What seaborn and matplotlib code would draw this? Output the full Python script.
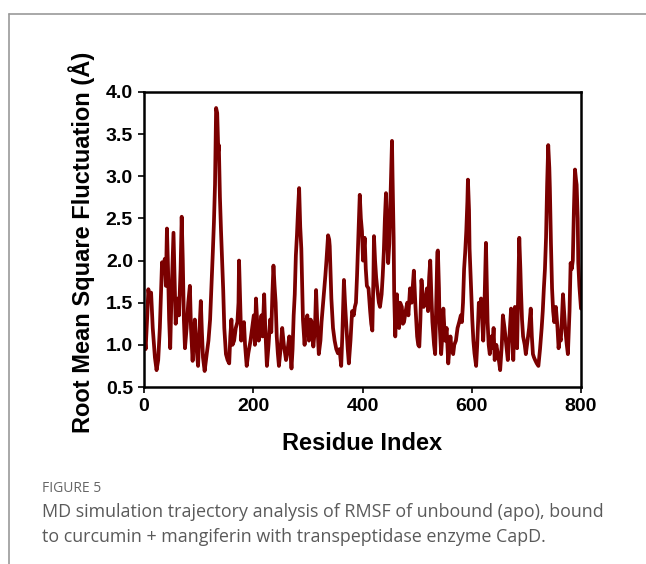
import matplotlib.pyplot as plt
import matplotlib.lines as mlines
import pandas as pd
import seaborn as sns

# RMSF per residue
residue = [
    0, 3, 6, 8, 10, 13, 16, 20, 23, 26, 29, 31, 33, 36, 38, 40, 42, 44, 46, 48, 50, 52, 54, 56, 58, 60, 62, 64, 67, 69, 71, 73, 75, 78, 81, 84, 86, 89, 91, 93, 95, 97, 99,
    101, 104, 106, 108, 111, 113, 115, 118, 121, 124, 126, 128, 130, 132, 134, 136, 137, 139, 141, 143, 145, 147, 150, 153, 156, 158, 160, 162, 165, 168, 171, 173, 174, 176, 178, 180, 183, 185, 188, 191, 195, 198,
    201, 203, 205, 207, 210, 213, 215, 217, 220, 222, 225, 228, 231, 233, 235, 237, 239, 241, 243, 245, 247, 250, 253, 256, 260, 263, 266, 268, 270, 272, 274, 276, 278, 280, 282, 284, 286, 288, 290, 291, 293, 294, 296, 299,
    301, 302, 305, 307, 310, 313, 315, 317, 320, 323, 325, 328, 332, 334, 337, 339, 340, 343, 346, 349, 352, 355, 358, 361, 363, 366, 368, 370, 373, 375, 378, 381, 384, 386, 388, 390, 392, 394, 395, 397, 399,
    401, 404, 406, 408, 411, 414, 416, 418, 420, 421, 423, 425, 427, 430, 432, 435, 437, 439, 441, 443, 445, 447, 449, 450, 452, 454, 455, 457, 458, 460, 463, 465, 467, 469, 472, 474, 476, 479, 482, 484, 487, 490, 492, 494, 497,
    500, 502, 504, 506, 508, 510, 512, 515, 518, 520, 522, 524, 526, 528, 531, 533, 535, 537, 538, 540, 541, 544, 546, 548, 551, 554, 557, 559, 561, 563, 566, 568, 571, 574, 577, 580, 582, 584, 586, 588, 590, 592, 593, 595, 596, 598, 599,
    601, 603, 605, 608, 610, 613, 615, 617, 619, 621, 623, 626, 628, 629, 631, 633, 636, 638, 640, 642, 645, 648, 650, 652, 655, 657, 660, 662, 664, 666, 669, 672, 674, 676, 679, 681, 683, 685, 687, 689, 690, 692, 694, 697, 699,
    702, 705, 708, 710, 712, 714, 716, 719, 722, 725, 728, 730, 732, 734, 736, 738, 740, 742, 743, 745, 747, 749, 751, 753, 754, 757, 759, 761, 763, 765, 767, 769, 771, 774, 776, 779, 781, 783, 785, 787, 789, 791, 792, 794, 795, 797, 800,
]
rmsf = [
    1.18, 0.95, 1.35, 1.66, 1.55, 1.62, 1.2, 0.85, 0.7, 0.82, 1.2, 1.59, 1.98, 1.85, 2.02, 1.7, 2.38, 1.9, 1.3, 0.96, 1.5, 1.9, 2.33, 1.8, 1.25, 1.4, 1.55, 1.35, 1.9, 2.52, 2.0, 1.3, 0.96, 1.2, 1.5, 1.7, 1.2, 0.81, 1.1, 1.3, 1.05, 0.9, 0.75,
    1.1, 1.52, 1.15, 0.85, 0.69, 0.8, 0.9, 1.05, 1.3, 1.77, 2.1, 2.45, 2.9, 3.81, 3.75, 3.3, 3.37, 2.75, 2.35, 2.0, 1.65, 1.2, 0.89, 0.82, 0.78, 1.1, 1.3, 1.0, 1.05, 1.2, 1.27, 1.5, 2.0, 1.5, 1.05, 1.2, 1.27, 1.0, 0.75, 0.9, 1.05, 1.2,
    1.35, 1.0, 1.55, 1.3, 1.05, 1.2, 1.35, 1.1, 1.6, 1.2, 0.75, 1.0, 1.3, 1.15, 1.6, 1.94, 1.7, 1.5, 1.1, 0.9, 0.75, 0.95, 1.2, 1.0, 0.82, 0.95, 1.1, 0.9, 0.72, 0.95, 1.35, 1.6, 2.06, 2.3, 2.6, 2.86, 2.4, 2.14, 1.6, 1.3, 1.1, 1.0, 1.25, 1.35,
    1.2, 1.05, 1.3, 1.27, 0.98, 1.2, 1.65, 1.3, 0.89, 1.05, 1.27, 1.5, 1.82, 2.0, 2.3, 2.25, 2.17, 1.55, 1.2, 1.05, 0.95, 0.9, 0.95, 0.75, 1.1, 1.77, 1.5, 1.27, 0.95, 0.78, 1.05, 1.4, 1.35, 1.45, 1.5, 1.82, 2.2, 2.6, 2.78, 2.5, 2.35,
    2.0, 2.27, 1.9, 1.7, 1.67, 1.4, 1.25, 1.17, 1.8, 2.29, 2.0, 1.8, 1.67, 1.5, 1.45, 1.6, 1.82, 2.1, 2.5, 2.8, 2.3, 1.97, 2.2, 2.45, 2.9, 3.42, 3.0, 2.27, 1.6, 1.1, 1.6, 1.3, 1.2, 1.5, 1.45, 1.25, 1.27, 1.4, 1.5, 1.35, 1.67, 1.5, 1.7, 1.88, 1.45,
    1.1, 1.0, 0.98, 1.3, 1.77, 1.6, 1.45, 1.5, 1.67, 1.4, 1.8, 2.0, 1.6, 1.27, 1.0, 0.89, 1.5, 2.1, 2.12, 1.67, 1.27, 0.89, 1.1, 1.43, 1.05, 1.2, 0.78, 0.95, 1.1, 0.95, 0.89, 1.0, 1.05, 1.2, 1.27, 1.35, 1.27, 1.5, 1.9, 2.1, 2.35, 2.7, 2.96, 2.6, 2.14, 1.8, 1.6,
    1.3, 1.05, 0.9, 0.75, 1.0, 1.5, 1.35, 1.55, 1.3, 1.05, 1.4, 2.21, 1.6, 1.27, 1.0, 0.89, 1.1, 0.96, 1.2, 0.82, 1.0, 0.89, 0.8, 0.7, 1.0, 1.35, 1.2, 1.08, 0.95, 0.82, 1.1, 1.43, 1.35, 0.82, 1.45, 1.2, 0.96, 1.6, 2.27, 1.9, 1.67, 1.3, 1.1, 1.0, 0.89,
    1.05, 1.2, 1.43, 1.1, 0.89, 0.85, 0.82, 0.78, 0.75, 0.95, 1.2, 1.4, 1.67, 1.9, 2.27, 2.9, 3.37, 3.1, 2.86, 2.2, 1.67, 1.4, 1.27, 1.35, 1.45, 1.2, 0.96, 1.1, 1.05, 1.3, 1.6, 1.4, 1.2, 1.0, 0.89, 1.4, 1.97, 1.9, 2.0, 2.6, 3.08, 2.95, 2.9, 2.5, 1.97, 1.7, 1.43,
]
x_ticks = [0, 200, 400, 600, 800]
y_ticks = [0.5, 1.0, 1.5, 2.0, 2.5, 3.0, 3.5, 4.0]

caption_head = 'FIGURE 5'
caption_lines = ['MD simulation trajectory analysis of RMSF of unbound (apo), bound',
                 'to curcumin + mangiferin with transpeptidase enzyme CapD.']

df = pd.DataFrame({'residue': residue, 'rmsf': rmsf})

sns.set_style('white')
plt.rcParams['font.family'] = ['Liberation Sans', 'DejaVu Sans']
plt.rcParams['text.color'] = 'black'
plt.rcParams['axes.labelcolor'] = 'black'
plt.rcParams['xtick.color'] = 'black'
plt.rcParams['ytick.color'] = 'black'

W, H = 646, 564
fig = plt.figure(figsize=(W / 100, H / 100), dpi=100)
fig.set_facecolor('white')

# axes box in pixel coords of the reference: x 144..581, y 92..387
ax = fig.add_axes([144 / W, 1 - 387 / H, 437 / W, 295 / H])
sns.lineplot(data=df, x='residue', y='rmsf', color='#7b0000', linewidth=2.7, ax=ax)

ax.set_xlim(0, 800)
ax.set_ylim(0.5, 4.0)
ax.set_xticks(x_ticks)
ax.set_yticks(y_ticks)
ax.set_xticklabels([str(t) for t in x_ticks], fontsize=14, fontweight='bold')
ax.set_yticklabels(['%.1f' % t for t in y_ticks], fontsize=14, fontweight='bold')
ax.tick_params(direction='out', length=4, width=1.2, color='black', pad=4, bottom=True, left=True)
for s in ax.spines.values():
    s.set_color('black')
    s.set_linewidth(1.8)

ax.set_xlabel('Residue Index', fontsize=17, fontweight='bold', va='center')
ax.xaxis.set_label_coords(0.5, (387 - 443) / 295)
ax.set_ylabel('Root Mean Square Fluctuation (Å)', fontsize=17, fontweight='bold', va='center')
ax.yaxis.set_label_coords((82 - 144) / 437, (387 - 242) / 295)

# page frame lines
fig.add_artist(mlines.Line2D([9 / W, 1], [1 - 14 / H, 1 - 14 / H], color='#9a9a9a', lw=1.2, transform=fig.transFigure))
fig.add_artist(mlines.Line2D([9 / W, 9 / W], [1 - 14 / H, 0], color='#9a9a9a', lw=1.2, transform=fig.transFigure))

fig.text(42 / W, 1 - 488 / H, caption_head, fontsize=10, color='#666666', family='Open Sans', va='center')
fig.text(42 / W, 1 - 512 / H, caption_lines[0], fontsize=12.9, color='#5a5a5a', family='Open Sans', va='center')
fig.text(42 / W, 1 - 537 / H, caption_lines[1], fontsize=12.9, color='#5a5a5a', family='Open Sans', va='center')

plt.savefig('out.png', dpi=100)
